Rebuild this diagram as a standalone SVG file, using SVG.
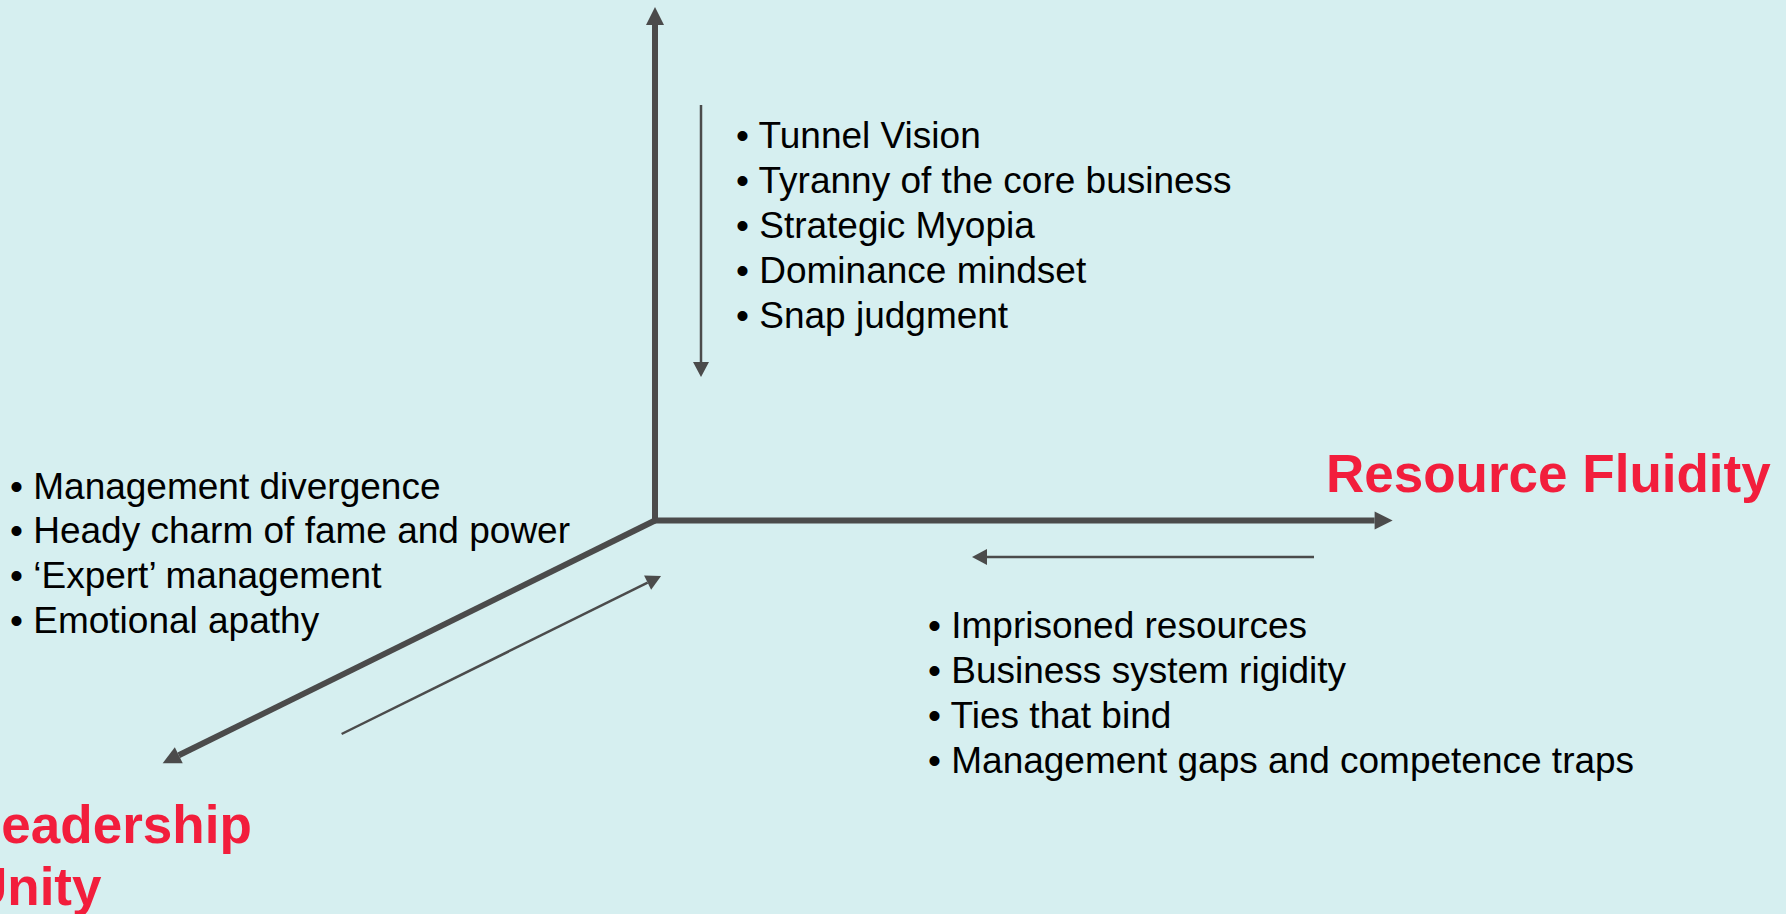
<svg xmlns="http://www.w3.org/2000/svg" width="1786" height="914" viewBox="0 0 1786 914">
  <style>
    .axis { stroke: #4B4B4B; stroke-width: 6; fill: none; }
    .flow { stroke: #4B4B4B; stroke-width: 2.5; fill: none; }
    .item { font-family: "Liberation Sans", Arial, sans-serif; font-size: 37px; fill: #000000; }
    .title { font-family: "Liberation Sans", Arial, sans-serif; font-size: 53px; font-weight: bold; fill: #F21E3C; }
  </style>
  <defs>
    <marker id="headAxis" markerUnits="userSpaceOnUse" orient="auto" viewBox="0 -9 18 18" refX="0" refY="0" markerWidth="18" markerHeight="18" overflow="visible">
      <path d="M0,-9 L18,0 L0,9 Z" fill="#4B4B4B"/>
    </marker>
    <marker id="headFlow" markerUnits="userSpaceOnUse" orient="auto" viewBox="0 -8 15 16" refX="0" refY="0" markerWidth="15" markerHeight="16" overflow="visible">
      <path d="M0,-8 L15,0 L0,8 Z" fill="#4B4B4B"/>
    </marker>
  </defs>

  <rect x="0" y="0" width="1786" height="914" fill="#D6EFF0"/>

  <g id="connectors">
    <!-- three axes from the common origin -->
    <line class="axis" x1="655" y1="523" x2="655" y2="25" marker-end="url(#headAxis)"/>
    <line class="axis" x1="652" y1="520.5" x2="1374.6" y2="520.5" marker-end="url(#headAxis)"/>
    <line class="axis" x1="655" y1="520.5" x2="178.8" y2="755.3" marker-end="url(#headAxis)"/>
    <!-- pull-back arrows alongside each axis -->
    <line class="flow" x1="701" y1="105" x2="701" y2="362" marker-end="url(#headFlow)"/>
    <line class="flow" x1="1314" y1="557" x2="987" y2="557" marker-end="url(#headFlow)"/>
    <line class="flow" x1="341.6" y1="734" x2="647.6" y2="582.7" marker-end="url(#headFlow)"/>
  </g>

  <g id="vertical-axis-items">
    <text class="item" x="736" y="148">• Tunnel Vision</text>
    <text class="item" x="736" y="193">• Tyranny of the core business</text>
    <text class="item" x="736" y="238">• Strategic Myopia</text>
    <text class="item" x="736" y="283">• Dominance mindset</text>
    <text class="item" x="736" y="328">• Snap judgment</text>
  </g>

  <g id="leadership-items">
    <text class="item" x="10" y="499">• Management divergence</text>
    <text class="item" x="10" y="543">• Heady charm of fame and power</text>
    <text class="item" x="10" y="588">• ‘Expert’ management</text>
    <text class="item" x="10" y="633">• Emotional apathy</text>
  </g>

  <g id="resource-items">
    <text class="item" x="928" y="638">• Imprisoned resources</text>
    <text class="item" x="928" y="683">• Business system rigidity</text>
    <text class="item" x="928" y="728">• Ties that bind</text>
    <text class="item" x="928" y="773">• Management gaps and competence traps</text>
  </g>

  <g id="resource-fluidity">
    <text class="title" x="1326" y="492">Resource Fluidity</text>
  </g>

  <g id="leadership-unity">
    <text class="title" x="-31" y="843">Leadership</text>
    <text class="title" x="-31" y="905">Unity</text>
  </g>
</svg>
